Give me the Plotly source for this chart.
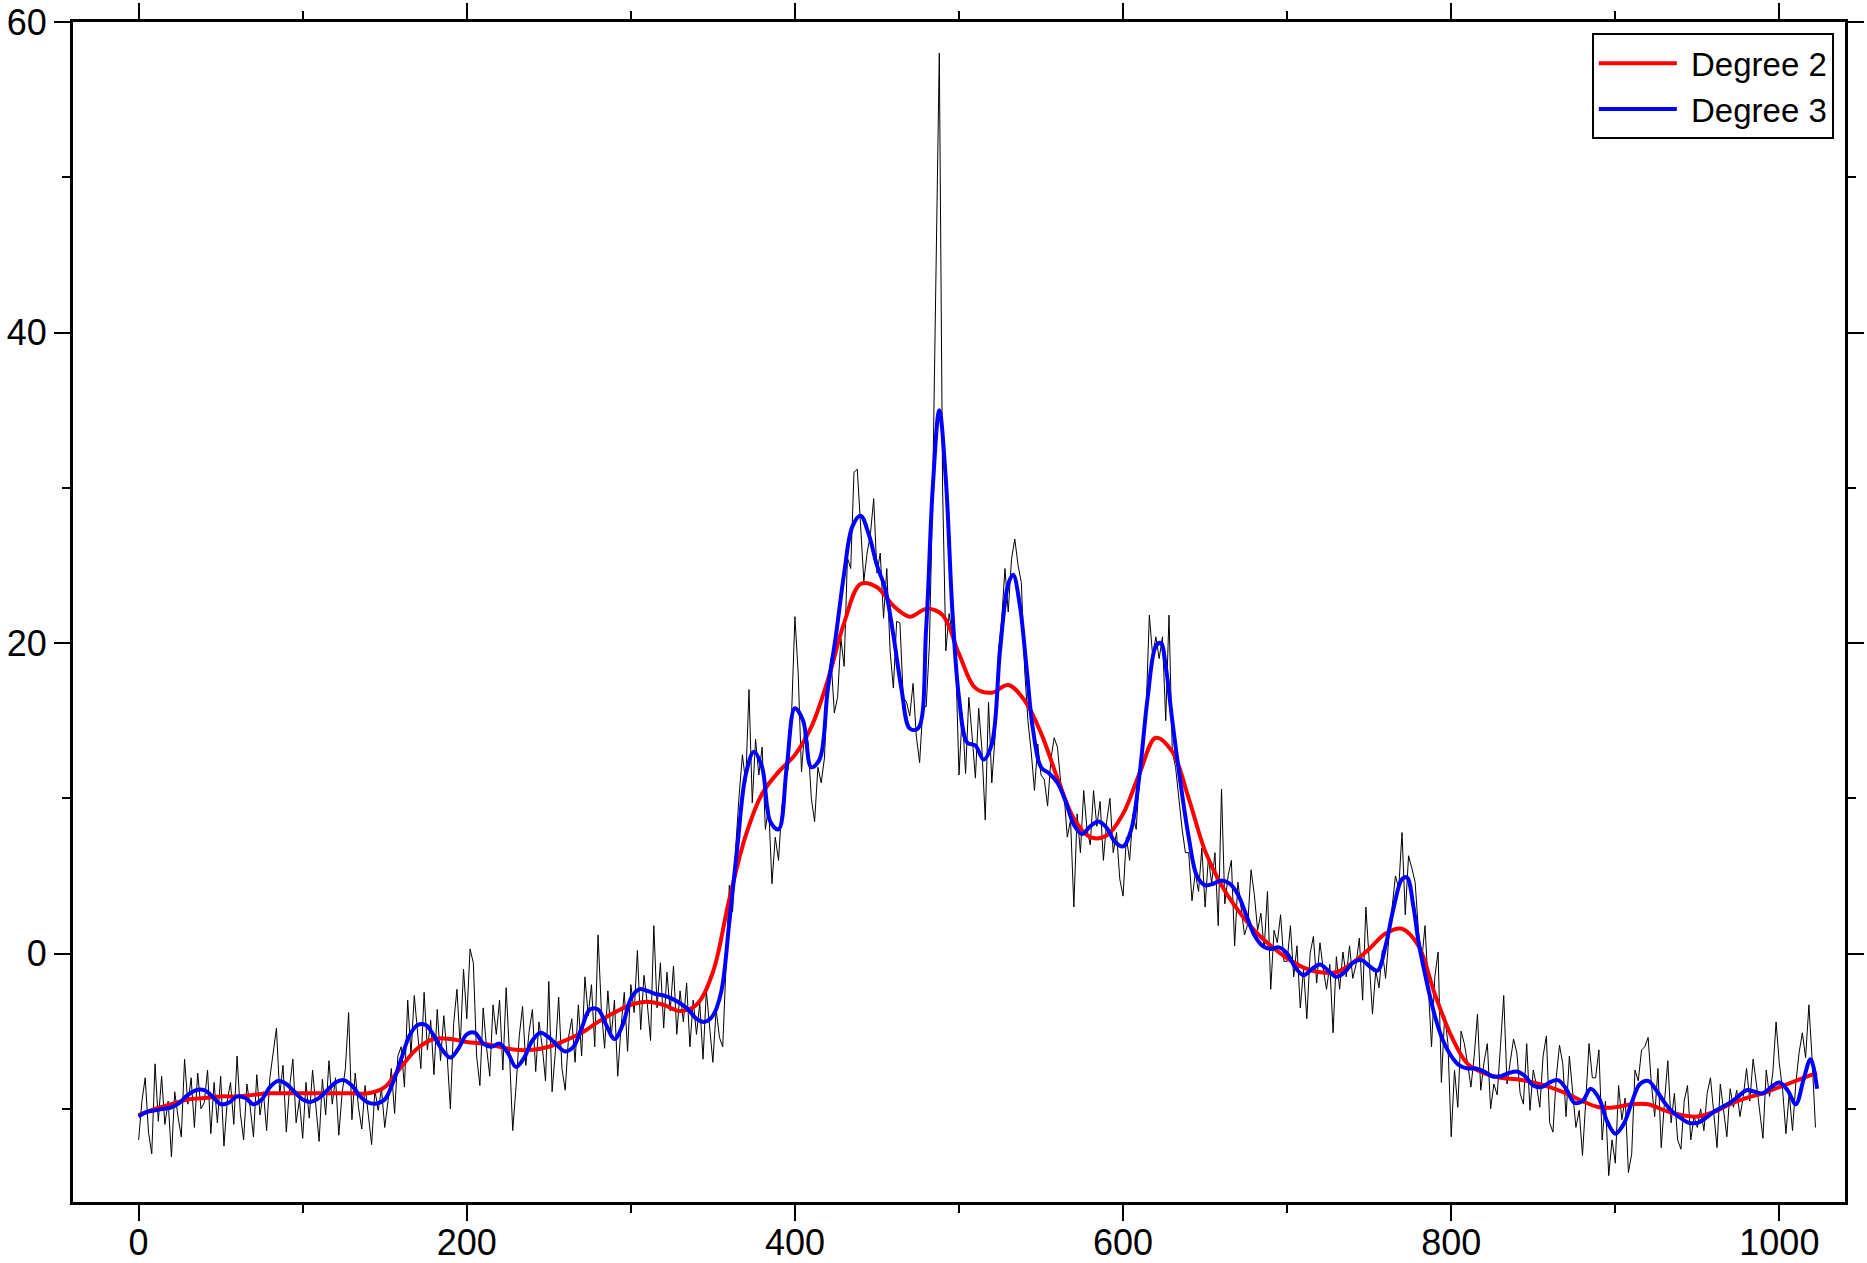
import plotly.graph_objects as go

# ---------------- data ----------------
# noisy signal, x = 0,2,4,...,1022
signal_x = list(range(0, 1024, 2))
signal_y = [
    -12.0, -9.5, -8.0, -11.5, -12.9, -7.1, -10.8, -7.9, -11.0, -9.5,
    -13.1, -8.9, -10.5, -11.8, -6.8, -9.7, -8.0, -11.2, -7.7, -10.0,
    -9.6, -7.5, -11.6, -8.3, -10.9, -7.9, -12.4, -9.5, -8.3, -11.0,
    -6.6, -10.3, -12.0, -8.4, -9.9, -11.8, -7.8, -10.4, -8.9, -11.4,
    -8.0, -6.4, -4.8, -9.1, -7.2, -11.5, -8.6, -6.8, -10.9, -9.4,
    -11.9, -8.3, -10.6, -7.5, -9.9, -12.1, -8.1, -10.4, -6.9, -9.7,
    -8.0, -11.7, -9.0, -7.4, -3.8, -10.7, -7.7, -9.9, -11.3, -8.5,
    -10.4, -12.3, -8.8, -10.1, -8.7, -11.2, -9.5, -7.4, -10.3, -6.6,
    -6.0, -8.6, -3.0, -6.5, -2.7, -5.0, -7.4, -2.5, -6.2, -4.3,
    -7.8, -3.6, -6.9, -4.0, -6.5, -10.0, -4.5, -2.3, -6.0, -1.0,
    -4.2, 0.3, -0.6, -6.6, -8.5, -3.5, -6.0, -7.9, -3.3, -5.2,
    -3.0, -7.5, -2.2, -6.4, -11.4, -8.6, -5.3, -3.4, -7.2, -5.0,
    -3.6, -7.6, -4.4, -6.0, -8.2, -1.8, -8.9, -6.3, -2.8, -7.4,
    -8.8, -5.4, -4.2, -7.0, -3.3, -6.6, -1.5, -4.0, -2.0, -6.0,
    1.2, -3.6, -6.1, -2.4, -5.4, -3.0, -7.9, -4.7, -2.5, -6.3,
    -2.0, -3.8, 0.2, -4.9, -1.4, -3.2, -5.6, 1.8, -3.5, -0.6,
    -4.8, -1.2, -3.7, -0.8, -5.2, -2.4, -4.4, -1.9, -6.0, -3.0,
    -5.2, -3.2, -6.8, -2.4, -4.9, -7.0, -3.6, -5.4, -6.0, -1.0,
    4.4, 2.7, 7.0, 10.2, 12.8, 11.0, 17.0, 9.7, 13.8, 11.5,
    13.3, 8.0, 9.5, 4.5, 7.5, 6.0, 9.4, 11.0, 12.0, 15.5,
    21.7, 18.0, 11.7, 14.5, 13.6, 10.0, 8.5, 12.0, 11.0, 12.6,
    17.5, 19.0, 15.5, 16.5, 20.3, 18.5, 25.5, 24.8, 31.0, 31.2,
    27.4, 24.0, 25.8, 27.0, 29.3, 24.5, 25.8, 21.6, 24.8, 19.5,
    17.1, 21.4, 21.3, 16.5, 16.2, 15.3, 17.4, 14.0, 12.3, 15.9,
    15.9, 20.0, 30.0, 45.0, 58.0, 30.0, 19.5, 21.9, 20.4, 19.0,
    11.5, 15.5, 11.6, 16.5, 14.0, 11.3, 15.8, 13.1, 8.6, 16.2,
    11.0, 14.0, 19.5, 21.5, 24.8, 22.0, 25.4, 26.7, 25.0, 23.9,
    18.3, 15.0, 13.0, 10.5, 13.5, 11.5, 11.2, 9.5, 12.5, 13.9,
    13.3, 11.0, 10.3, 7.5, 8.6, 3.0, 9.0, 6.5, 10.5, 8.0,
    7.0, 10.5, 8.2, 9.8, 6.0, 8.5, 10.0, 6.5, 7.8, 4.8,
    3.7, 7.5, 6.0, 9.0, 8.0, 11.5, 14.0, 15.5, 21.8, 19.2,
    20.4, 19.0, 20.4, 15.0, 21.8, 13.0, 12.0, 10.0, 8.0, 6.5,
    6.5, 3.4, 5.2, 4.0, 6.8, 3.0, 6.2, 4.5, 6.5, 1.8,
    10.6, 3.2, 5.0, 6.0, 0.5, 4.6, 2.8, 1.2, 1.9, 5.4,
    3.8, 1.5, 2.6, 0.3, 4.0, -2.3, 1.5, 0.7, 2.5, -0.5,
    -0.5, 1.8, -1.5, 0.5, -3.5, -1.0, -4.2, 0.0, 1.1, -1.9,
    0.7, -1.0, -2.3, -0.7, -5.1, -0.2, -2.3, 0.1, -1.5, 0.5,
    -1.6, -0.7, 1.0, -3.0, 3.0, -0.5, -3.9, -1.1, -2.2, 0.2,
    -1.6, 1.0, 3.2, 5.0, 4.2, 7.8, 2.5, 6.3, 5.5, 4.6,
    1.5, -0.5, 1.8, -2.0, -6.0, -1.5, 0.1, -8.3, -4.0, -5.8,
    -11.8, -7.5, -9.9, -5.0, -5.8, -7.1, -8.6, -6.6, -3.9, -8.8,
    -7.0, -5.8, -10.0, -8.4, -9.1, -6.0, -2.7, -8.4, -7.0, -5.5,
    -6.4, -9.0, -9.7, -5.8, -10.1, -7.5, -8.5, -9.9, -6.6, -5.3,
    -10.9, -11.5, -8.0, -5.9, -7.1, -10.5, -6.6, -9.0, -11.2, -10.1,
    -13.0, -9.5, -5.8, -8.0, -8.0, -6.2, -12.0, -9.5, -14.3, -12.0,
    -13.5, -8.5, -10.7, -9.3, -14.1, -12.9, -7.5, -8.2, -6.2, -6.0,
    -5.4, -8.4, -10.5, -7.4, -12.5, -9.5, -6.9, -10.9, -9.0, -12.0,
    -12.6, -9.5, -8.5, -12.0, -10.5, -11.2, -10.0, -11.4, -9.0, -8.0,
    -10.1, -12.5, -8.4, -10.1, -11.8, -8.7, -9.9, -8.8, -10.5, -9.2,
    -7.4, -9.5, -6.8, -8.4, -10.0, -11.9, -7.5, -9.2, -7.7, -4.4,
    -7.1, -8.8, -11.6, -9.0, -11.4, -8.4, -6.4, -5.1, -6.7, -3.3,
    -6.9, -11.2,
]

# Degree 2 smooth fit
deg2_x = list(range(0, 1021, 10)) + [1023]
deg2_y = [
    -10.4, -10.0, -9.7, -9.4, -9.3, -9.2, -9.2, -9.1, -9.0, -9.0,
    -9.0, -9.0, -9.0, -9.0, -9.0, -8.6, -7.3, -6.1, -5.5, -5.5,
    -5.7, -5.8, -6.0, -6.2, -6.2, -6.0, -5.6, -5.1, -4.4, -3.8,
    -3.3, -3.1, -3.3, -3.7, -3.3, -1.2, 3.5, 7.6, 10.3, 11.7,
    12.8, 14.6, 17.6, 21.3, 23.8, 23.6, 22.4, 21.7, 22.2, 21.8,
    19.3, 17.1, 16.8, 17.3, 16.3, 14.2, 11.3, 8.7, 7.5, 7.6,
    9.0, 11.6, 13.9, 13.0, 10.0, 6.6, 4.4, 2.8, 1.5, 0.5,
    -0.3, -0.9, -1.2, -1.2, -0.6, 0.3, 1.3, 1.6, 0.5, -2.6,
    -5.3, -7.1, -7.7, -8.0, -8.1, -8.3, -8.6, -9.0, -9.5, -9.9,
    -9.9, -9.7, -9.7, -10.1, -10.4, -10.5, -10.2, -9.7, -9.3, -9.0,
    -8.6, -8.2, -7.8, -7.7,
]

# Degree 3 smooth fit
deg3_x = [
    0, 5, 10, 15, 20, 25, 30, 35, 40, 45, 50, 55, 60, 65, 70, 75, 80, 85, 90, 95,
    100, 105, 110, 115, 120, 125, 130, 135, 140, 145, 150, 155, 160, 165, 170, 175,
    180, 185, 190, 195, 200, 205, 210, 215, 220, 225, 230, 235, 240, 245, 250, 255,
    260, 265, 270, 275, 280, 285, 290, 295, 300, 305, 310, 315, 320, 325, 330, 335,
    340, 345, 350, 355, 360, 365, 370, 375, 380, 385, 390, 395, 400, 405, 410, 415,
    420, 425, 430, 435, 440, 445, 450, 455, 460, 465, 470, 475, 480, 484, 488, 492,
    496, 500, 505, 510, 515, 520, 525, 530, 533, 537, 541, 545, 550, 555, 560, 565,
    570, 575, 580, 585, 590, 595, 600, 605, 610, 615, 620, 623, 626, 630, 635, 640,
    645, 650, 655, 660, 665, 670, 675, 680, 685, 690, 695, 700, 705, 710, 715, 720,
    725, 730, 735, 740, 745, 750, 755, 760, 765, 770, 773, 777, 780, 785, 790, 795,
    800, 805, 810, 815, 820, 825, 830, 835, 840, 845, 850, 855, 860, 865, 870, 875,
    880, 885, 890, 895, 900, 905, 910, 915, 920, 925, 930, 935, 940, 945, 950, 955,
    960, 965, 970, 975, 980, 985, 990, 995, 1000, 1005, 1010, 1015, 1019, 1023,
]
deg3_y = [
    -10.5, -10.2, -10.1, -10.0, -9.9, -9.6, -9.1, -8.8, -8.8, -9.2, -9.7, -9.6, -9.2, -9.3, -9.7, -9.4, -8.6, -8.2, -8.4, -8.9,
    -9.4, -9.55, -9.3, -8.8, -8.3, -8.15, -8.5, -9.2, -9.6, -9.65, -9.4, -8.3, -6.8, -5.3, -4.6, -4.6,
    -5.3, -6.2, -6.7, -6.1, -5.2, -5.1, -5.8, -6.0, -5.8, -6.4, -7.3, -6.7, -5.6, -5.1, -5.4, -5.9,
    -6.3, -6.0, -4.8, -3.6, -3.6, -4.6, -5.5, -4.6, -2.9, -2.3, -2.4, -2.6, -2.7, -2.9, -3.2, -3.6,
    -4.2, -4.4, -4.0, -2.5, 2.0, 7.0, 11.5, 13.0, 12.0, 8.5, 8.0, 12.0, 15.8, 15.0, 12.0, 12.5,
    17.0, 20.5, 24.5, 27.5, 28.2, 27.0, 25.0, 23.5, 20.5, 17.0, 14.5, 14.5, 21.0, 30.0, 35.0, 30.5,
    22.0, 16.5, 13.6, 13.4, 12.5, 13.5, 19.5, 23.8, 24.4, 22.5, 18.6, 14.5, 12.0, 11.6, 11.0, 9.8,
    8.3, 7.7, 8.2, 8.5, 8.1, 7.2, 6.9, 8.0, 11.5, 16.5, 19.8, 20.0, 18.5, 15.0, 11.0, 7.5,
    5.0, 4.4, 4.5, 4.7, 4.5, 3.8, 2.5, 1.2, 0.5, 0.3, 0.4, 0.0, -0.9, -1.4, -1.0, -0.7,
    -1.1, -1.5, -1.2, -0.6, -0.4, -0.8, -1.1, 0.5, 3.0, 4.8, 4.9, 3.0, 0.8, -1.8, -4.0, -5.6,
    -6.6, -7.2, -7.4, -7.4, -7.6, -7.9, -7.9, -7.7, -7.6, -7.9, -8.5, -8.6, -8.3, -8.15, -8.7, -9.6,
    -9.5, -8.7, -9.3, -10.8, -11.6, -11.0, -9.6, -8.4, -8.2, -8.8, -9.6, -10.2, -10.6, -10.9, -10.9, -10.6,
    -10.2, -9.9, -9.6, -9.2, -8.8, -8.9, -9.0, -8.6, -8.3, -8.8, -9.7, -8.0, -6.8, -8.7,
]

x_ticks = [0, 200, 400, 600, 800, 1000]
y_ticks = [0, 20, 40, 60]

FONT = "Liberation Sans, Arial, Helvetica, sans-serif"
NB = "\u00a0"

fig = go.Figure()
fig.add_trace(go.Scatter(x=signal_x, y=signal_y, mode="lines",
                         line=dict(color="black", width=1), showlegend=False,
                         hoverinfo="skip"))
fig.add_trace(go.Scatter(x=deg2_x, y=deg2_y, mode="lines", name=NB + "Degree 2",
                         line=dict(color="#ff0000", width=4, shape="spline")))
fig.add_trace(go.Scatter(x=deg3_x, y=deg3_y, mode="lines", name=NB + "Degree 3",
                         line=dict(color="#0000ff", width=4, shape="spline")))

axis_common = dict(
    showgrid=False, zeroline=False, showline=True, linecolor="black", linewidth=3,
    mirror="allticks", ticks="outside", ticklen=16, tickwidth=2, tickcolor="black",
    tickfont=dict(family=FONT, size=36, color="black"), automargin=False,
    ticklabeloverflow="allow",
)

fig.update_xaxes(range=[-40, 1040], tickvals=x_ticks, ticktext=[str(v) for v in x_ticks],
                 minor=dict(dtick=100, tick0=0, ticks="outside", ticklen=8, tickwidth=2,
                            tickcolor="black"),
                 ticklabelstandoff=-9,
                 **axis_common)
fig.update_yaxes(range=[-16, 60], tickvals=y_ticks, ticktext=[str(v) for v in y_ticks],
                 minor=dict(dtick=10, tick0=0, ticks="outside", ticklen=8, tickwidth=2,
                            tickcolor="black"),
                 **axis_common)

fig.update_layout(
    width=1867, height=1263,
    margin=dict(l=73, r=22, t=22, b=61),
    paper_bgcolor="white", plot_bgcolor="white",
    font=dict(family=FONT, size=33, color="black"),
    legend=dict(x=0.9937, y=0.9905, xanchor="right", yanchor="top",
                bgcolor="white", bordercolor="black", borderwidth=2,
                font=dict(family=FONT, size=33, color="black"),
                itemwidth=78, tracegroupgap=0),
    showlegend=True,
)

fig.write_html("out.html", config={"displayModeBar": False},
               post_script="document.body.style.margin='0';document.body.style.padding='0';")
